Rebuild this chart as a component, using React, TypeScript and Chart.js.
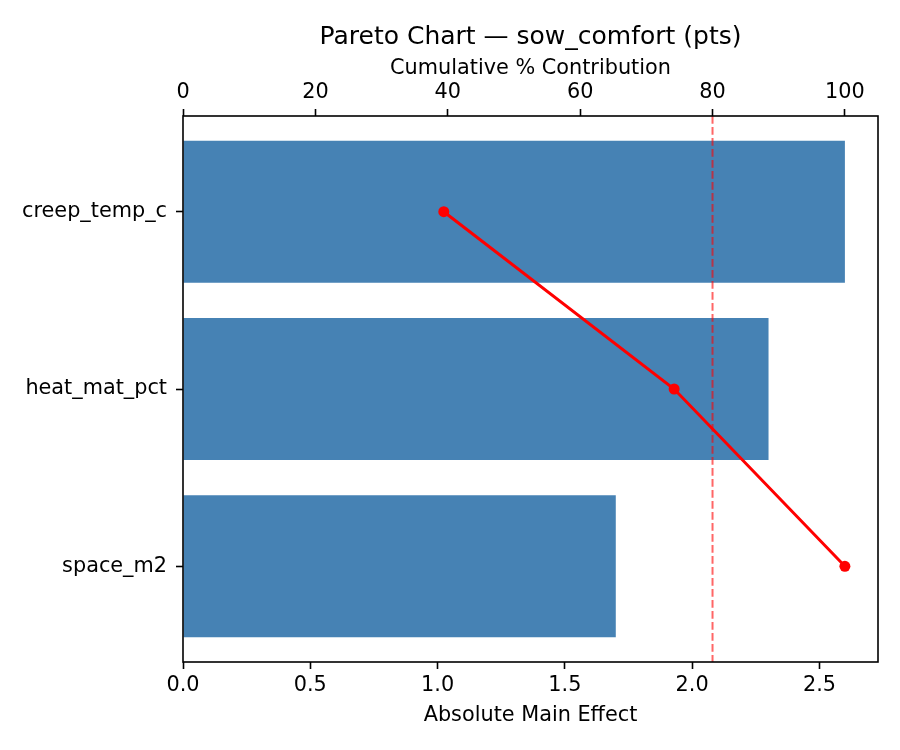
import React, { useEffect, useRef } from 'react';
import { Chart, registerables } from 'chart.js';

Chart.register(...registerables);

// values
const features = ['creep_temp_c', 'heat_mat_pct', 'space_m2'];
const effects = [2.6, 2.3, 1.7];
const cumulativePct = [39.4, 74.2, 100];
const effectTicks = [0, 0.5, 1.0, 1.5, 2.0, 2.5];
const pctTicks = [0, 20, 40, 60, 80, 100];
const threshold = 80;

const effectMax = 2.73;
const pctMax = 105;
const yMin = -0.54;
const yMax = 2.54;

const TITLE = 'Pareto Chart \u2014 sow_comfort (pts)';
const FONT = 'DejaVu Sans';
const TICK_FONT = { family: FONT, size: 20.8 };

// plot box frame + main title
const framePlugin = {
  id: 'frame',
  afterDatasetsDraw(chart: any) {
    const { ctx, chartArea } = chart;
    ctx.save();
    ctx.strokeStyle = '#000';
    ctx.lineWidth = 1.6;
    ctx.strokeRect(chartArea.left, chartArea.top, chartArea.right - chartArea.left, chartArea.bottom - chartArea.top);
    ctx.restore();
  },
  afterDraw(chart: any) {
    const { ctx, chartArea } = chart;
    ctx.save();
    ctx.fillStyle = '#000';
    ctx.font = `25px "${FONT}"`;
    ctx.textAlign = 'center';
    ctx.textBaseline = 'middle';
    ctx.fillText(TITLE, (chartArea.left + chartArea.right) / 2, 37);
    ctx.restore();
  },
};

const tickGrid = {
  drawOnChartArea: false,
  drawTicks: true,
  tickLength: 7,
  tickWidth: 1.6,
  tickColor: '#000',
};

const App: React.FC = () => {
  const chartRef = useRef<HTMLCanvasElement>(null);
  const chartInstance = useRef<Chart | null>(null);

  useEffect(() => {
    document.body.style.margin = '0';
    if (!chartRef.current) return;
    if (chartInstance.current) chartInstance.current.destroy();

    const ctx = chartRef.current.getContext('2d');
    if (!ctx) return;

    chartInstance.current = new Chart(ctx, {
      type: 'bar',
      data: {
        datasets: [
          {
            type: 'line',
            label: 'Cumulative %',
            data: cumulativePct.map((v, i) => ({ x: v, y: i })),
            xAxisID: 'x2',
            yAxisID: 'y',
            borderColor: '#ff0000',
            backgroundColor: '#ff0000',
            borderWidth: 3,
            pointRadius: 5.5,
            pointBorderWidth: 0,
            pointBackgroundColor: '#ff0000',
            tension: 0,
            order: 1,
          } as any,
          {
            type: 'line',
            label: '80% line',
            data: [
              { x: threshold, y: yMin },
              { x: threshold, y: yMax },
            ],
            xAxisID: 'x2',
            yAxisID: 'y',
            borderColor: 'rgba(255, 0, 0, 0.6)',
            borderWidth: 2,
            borderDash: [7.7, 3.3],
            pointRadius: 0,
            order: 2,
          } as any,
          {
            type: 'bar',
            label: 'Effect',
            data: effects.map((v, i) => ({ x: v, y: i })),
            xAxisID: 'x',
            yAxisID: 'y',
            backgroundColor: '#4682B4',
            borderWidth: 0,
            barPercentage: 0.8,
            categoryPercentage: 1,
            order: 3,
          } as any,
        ],
      },
      options: {
        indexAxis: 'y',
        responsive: false,
        animation: false,
        devicePixelRatio: 1,
        layout: { padding: { left: 0, right: 22, top: 0, bottom: 0 } },
        plugins: {
          legend: { display: false },
          title: { display: false },
          tooltip: { enabled: false },
        },
        scales: {
          x: {
            type: 'linear',
            position: 'bottom',
            min: 0,
            max: effectMax,
            border: { display: false },
            grid: tickGrid,
            afterBuildTicks: (axis: any) => {
              axis.ticks = effectTicks.map((v) => ({ value: v }));
            },
            afterFit: (axis: any) => {
              axis.height = 88;
            },
            ticks: {
              color: '#000',
              font: TICK_FONT,
              padding: 4,
              maxRotation: 0,
              callback: (v: any) => Number(v).toFixed(1),
            },
            title: {
              display: true,
              text: 'Absolute Main Effect',
              color: '#000',
              font: TICK_FONT,
              padding: { top: 0, bottom: 22 },
            },
          },
          x2: {
            type: 'linear',
            position: 'top',
            min: 0,
            max: pctMax,
            border: { display: false },
            grid: tickGrid,
            afterBuildTicks: (axis: any) => {
              axis.ticks = pctTicks.map((v) => ({ value: v }));
            },
            afterFit: (axis: any) => {
              axis.height = 116;
            },
            ticks: {
              color: '#000',
              font: TICK_FONT,
              padding: 4,
              maxRotation: 0,
              callback: (v: any) => String(v),
            },
            title: {
              display: true,
              text: 'Cumulative % Contribution',
              color: '#000',
              font: TICK_FONT,
              padding: { top: 56, bottom: 0 },
            },
          },
          y: {
            type: 'linear',
            min: yMin,
            max: yMax,
            reverse: true,
            offset: false,
            border: { display: false },
            grid: { ...tickGrid, offset: false },
            afterBuildTicks: (axis: any) => {
              axis.ticks = features.map((_, i) => ({ value: i }));
            },
            afterFit: (axis: any) => {
              axis.width = 183;
            },
            ticks: {
              color: '#000',
              font: TICK_FONT,
              padding: 9,
              callback: (v: any) => features[Math.round(Number(v))] ?? '',
            },
          },
        },
      },
      plugins: [framePlugin],
    });

    return () => {
      if (chartInstance.current) {
        chartInstance.current.destroy();
        chartInstance.current = null;
      }
    };
  }, []);

  return (
    <div style={{ width: 900, height: 750, background: '#fff' }}>
      <canvas ref={chartRef} width={900} height={750}></canvas>
    </div>
  );
};

export default App;
